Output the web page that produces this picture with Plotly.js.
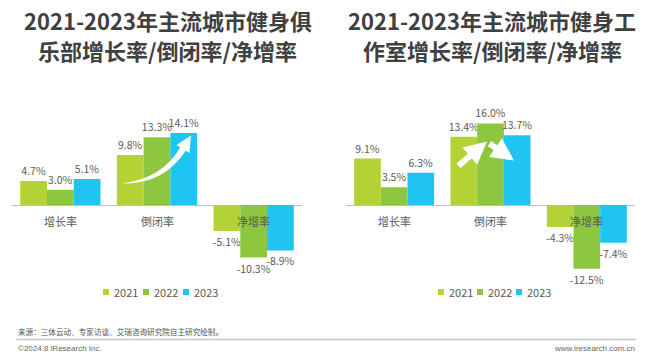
<!DOCTYPE html>
<html>
<head>
<meta charset="utf-8">
<script src="https://cdn.plot.ly/plotly-3.0.1.min.js"></script>
<style>html,body{margin:0;padding:0;background:#fff;}#chart{width:660px;height:357px;}</style>
</head>
<body>
<div id="chart"></div>
<script>
// ---- data ----
const categories = ['增长率', '倒闭率', '净增率'];
const years = ['2021', '2022', '2023'];
const clubValues2021 = [4.7, 9.8, -5.1];
const clubValues2022 = [3.0, 13.3, -10.3];
const clubValues2023 = [5.1, 14.1, -8.9];
const studioValues2021 = [9.1, 13.4, -4.3];
const studioValues2022 = [3.5, 16.0, -12.5];
const studioValues2023 = [6.3, 13.7, -7.4];
const titleClubLines = ['2021-2023年主流城市健身俱', '乐部增长率/倒闭率/净增率'];
const titleStudioLines = ['2021-2023年主流城市健身工', '作室增长率/倒闭率/净增率'];
const sourceText = '来源：三体云动、专家访谈、艾瑞咨询研究院自主研究绘制。';
const copyrightText = '©2024.8 iResearch Inc.';
const siteText = 'www.iresearch.com.cn';

// ---- styles ----
const colors = ['#b2d235', '#8dc63f', '#20c4f0'];
const W = 660, H = 357;
const px = x => x / W;
const py = y => 1 - y / H;
const CJK = '"Noto Sans CJK SC", "Noto Sans", sans-serif';
const labelColor = '#595959';

const clubSeries = [clubValues2021, clubValues2022, clubValues2023];
const studioSeries = [studioValues2021, studioValues2022, studioValues2023];

const traces = [];
function addSeries(series, xa, ya) {
  series.forEach((vals, i) => {
    traces.push({
      type: 'bar', x: categories, y: vals, name: years[i],
      xaxis: xa, yaxis: ya,
      marker: {color: colors[i], line: {width: 0}},
      texttemplate: '%{y:.1f}%', textposition: 'outside',
      constraintext: 'none', cliponaxis: false,
      textfont: {family: CJK, size: 10.5, color: labelColor},
      showlegend: false, hoverinfo: 'skip'
    });
  });
}
addSeries(clubSeries, 'x', 'y');
addSeries(studioSeries, 'x2', 'y2');

const yDomain = [py(281.5), py(113.2)];
const yCommon = {range: [-15, 18], domain: yDomain, showgrid: false, showticklabels: false,
  zeroline: true, zerolinecolor: '#bfbfbf', zerolinewidth: 1, showline: false, ticks: '', fixedrange: true};
const xCommon = {type: 'category', showgrid: false, showticklabels: false, showline: false, ticks: '', zeroline: false, fixedrange: true};

const annotations = [];
// titles
function addTitle(lines, cx) {
  annotations.push({xref: 'paper', yref: 'paper', x: px(cx), y: py(20), text: '<b>' + lines[0] + '</b>',
    showarrow: false, xanchor: 'center', yanchor: 'middle', font: {family: CJK, size: 22, color: '#404040'}});
  annotations.push({xref: 'paper', yref: 'paper', x: px(cx), y: py(50), text: '<b>' + lines[1] + '</b>',
    showarrow: false, xanchor: 'center', yanchor: 'middle', font: {family: CJK, size: 22, color: '#404040'}});
}
addTitle(titleClubLines, 168);
addTitle(titleStudioLines, 492);

// category labels
[['x', 'y'], ['x2', 'y2']].forEach(([xa, ya]) => {
  categories.forEach(c => {
    annotations.push({xref: xa, yref: ya, x: c, y: 0, yshift: -16, text: c, showarrow: false,
      xanchor: 'center', yanchor: 'middle', font: {family: CJK, size: 11, color: labelColor}});
  });
});

// legends (manual)
const shapes = [];
function addLegend(xs) {
  years.forEach((yr, i) => {
    const sx = xs[i];
    shapes.push({type: 'rect', xref: 'paper', yref: 'paper', x0: px(sx - 3), x1: px(sx + 3), y0: py(295), y1: py(289),
      fillcolor: colors[i], line: {width: 0}});
    annotations.push({xref: 'paper', yref: 'paper', x: px(sx + 6), y: py(292), text: yr, showarrow: false,
      xanchor: 'left', yanchor: 'middle', font: {family: CJK, size: 11, color: labelColor}});
  });
}
addLegend([106, 146, 186]);
addLegend([441, 480, 519]);

// footer
annotations.push({xref: 'paper', yref: 'paper', x: px(16), y: py(331), text: sourceText, showarrow: false,
  xanchor: 'left', yanchor: 'middle', font: {family: CJK, size: 7.6, color: '#555555'}});
annotations.push({xref: 'paper', yref: 'paper', x: px(16), y: py(348), text: copyrightText, showarrow: false,
  xanchor: 'left', yanchor: 'middle', font: {family: '"Liberation Sans", Arial, sans-serif', size: 8, color: '#666666'}});
annotations.push({xref: 'paper', yref: 'paper', x: px(637), y: py(348), text: siteText, showarrow: false,
  xanchor: 'right', yanchor: 'middle', font: {family: '"Liberation Sans", Arial, sans-serif', size: 8, color: '#666666'}});
shapes.push({type: 'line', xref: 'paper', yref: 'paper', x0: px(16), x1: px(636), y0: py(339.5), y1: py(339.5),
  line: {color: '#c8c8c8', width: 1.5}});

// decorative white arrows
function pathFrom(cmds) {
  return cmds.map(c => c[0] + (c.length > 1 ? ' ' + c.slice(1).reduce((a, v, k) => {
    a.push(k % 2 === 0 ? px(v).toFixed(5) : py(v).toFixed(5)); return a;
  }, []).join(',') : '')).join(' ');
}
// curved arrow (club chart)
shapes.push({type: 'path', xref: 'paper', yref: 'paper', layer: 'above', line: {width: 0}, fillcolor: '#ffffff',
  path: pathFrom([['M', 122, 183.5], ['Q', 163, 178, 180.2, 147.2], ['L', 176.5, 145], ['L', 191, 135.5],
    ['L', 189.5, 153], ['L', 185.8, 150.8], ['Q', 163, 185, 122, 183.5], ['Z']])});
// straight arrows (studio chart)
annotations.push({xref: 'paper', yref: 'paper', x: px(487), y: py(141.5), ax: -30, ay: 25.5, text: '',
  showarrow: true, arrowcolor: '#ffffff', arrowwidth: 6, arrowhead: 2, arrowsize: 0.75});
annotations.push({xref: 'paper', yref: 'paper', x: px(514), y: py(160.5), ax: -26, ay: -18, text: '',
  showarrow: true, arrowcolor: '#ffffff', arrowwidth: 6, arrowhead: 2, arrowsize: 0.75});

const layout = {
  width: W, height: H, margin: {l: 0, r: 0, t: 0, b: 0},
  paper_bgcolor: '#ffffff', plot_bgcolor: 'rgba(0,0,0,0)',
  barmode: 'group', bargap: 0.17, bargroupgap: 0,
  showlegend: false,
  xaxis: Object.assign({}, xCommon, {domain: [px(12), px(302)], anchor: 'y'}),
  yaxis: Object.assign({}, yCommon, {anchor: 'x'}),
  xaxis2: Object.assign({}, xCommon, {domain: [px(346), px(635)], anchor: 'y2'}),
  yaxis2: Object.assign({}, yCommon, {anchor: 'x2'}),
  annotations: annotations, shapes: shapes,
  font: {family: CJK}
};
Plotly.newPlot('chart', traces, layout, {staticPlot: true, displayModeBar: false});
</script>
</body>
</html>
